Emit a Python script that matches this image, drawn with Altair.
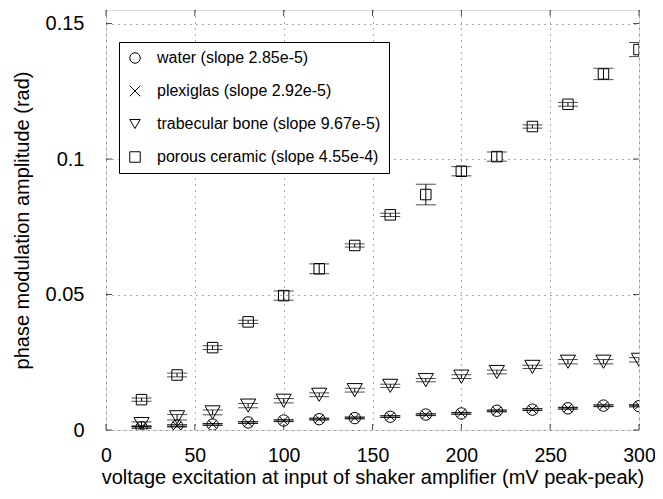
import altair as alt
import pandas as pd

voltage = [20, 40, 60, 80, 100, 120, 140, 160, 180, 200, 220, 240, 260, 280, 300]

water = [0.0010, 0.0016, 0.0020, 0.0028, 0.0035, 0.0040, 0.0044, 0.0049, 0.0057, 0.0061, 0.0071, 0.0075, 0.0080, 0.0090, 0.0088]
water_err = [0.0003, 0.0003, 0.0003, 0.0003, 0.0003, 0.0003, 0.0003, 0.0003, 0.0003, 0.0003, 0.0003, 0.0003, 0.0003, 0.0003, 0.0003]

plexiglas = [0.0011, 0.0015, 0.0021, 0.0027, 0.0034, 0.0041, 0.0045, 0.0050, 0.0056, 0.0062, 0.0070, 0.0076, 0.0081, 0.0089, 0.0091]
plexiglas_err = [0.0004, 0.0004, 0.0003, 0.0003, 0.0003, 0.0003, 0.0003, 0.0003, 0.0003, 0.0003, 0.0003, 0.0003, 0.0003, 0.0003, 0.0003]

bone = [0.0022, 0.0047, 0.0065, 0.0090, 0.0108, 0.0130, 0.0147, 0.0163, 0.0184, 0.0197, 0.0214, 0.0233, 0.0252, 0.0252, 0.0259]
bone_err = [0.0008, 0.0010, 0.0009, 0.0008, 0.0008, 0.0007, 0.0007, 0.0006, 0.0006, 0.0007, 0.0007, 0.0006, 0.0008, 0.0008, 0.0008]

ceramic = [0.0112, 0.0203, 0.0304, 0.0399, 0.0496, 0.0595, 0.0681, 0.0794, 0.0869, 0.0955, 0.1009, 0.1120, 0.1202, 0.1314, 0.1404]
ceramic_err = [0.0006, 0.0007, 0.0007, 0.0006, 0.0017, 0.0018, 0.0006, 0.0006, 0.0038, 0.0017, 0.0017, 0.0006, 0.0007, 0.0021, 0.0026]

series_names = [
    "water (slope 2.85e-5)",
    "plexiglas (slope 2.92e-5)",
    "trabecular bone (slope 9.67e-5)",
    "porous ceramic (slope 4.55e-4)",
]
shapes = ["circle", "M-1,-1L1,1M-1,1L1,-1", "triangle-down", "square"]
sizes = [130, 70, 230, 110]

x_ticks = [0, 50, 100, 150, 200, 250, 300]
y_ticks = [0, 0.05, 0.1, 0.15]

rows = []
for name, vals, errs in zip(series_names, [water, plexiglas, bone, ceramic],
                            [water_err, plexiglas_err, bone_err, ceramic_err]):
    for v, y, e in zip(voltage, vals, errs):
        rows.append({"v": v, "y": y, "lo": y - e, "hi": y + e, "series": name})
df = pd.DataFrame(rows)

W, H = 533, 420
FONT = "Liberation Sans"

xscale = alt.Scale(domain=[0, 300], nice=False)
yscale = alt.Scale(domain=[0, 0.155], nice=False)

xaxis = alt.Axis(values=x_ticks, format="d", title="voltage excitation at input of shaker amplifier (mV peak-peak)",
                 grid=True, gridDash=[1, 5], gridColor="#555", gridWidth=1, domain=False, ticks=False,
                 labelPadding=16, labelFontSize=19.5, titleFontSize=20, titleFontWeight="normal",
                 labelFont=FONT, titleFont=FONT, titlePadding=3, labelColor="black", titleColor="black",
                 labelFlush=False, labelOverlap=False)
yaxis = alt.Axis(values=y_ticks, format="~g", title="phase modulation amplitude (rad)",
                 grid=True, gridDash=[1, 5], gridColor="#555", gridWidth=1, domain=False, ticks=False,
                 labelPadding=22, labelFontSize=20, titleFontSize=20, titleFontWeight="normal",
                 labelFont=FONT, titleFont=FONT, titlePadding=13, labelColor="black", titleColor="black",
                 labelFlush=False, labelOverlap=False)

base = alt.Chart(df)

rules = base.mark_rule(color="black", strokeWidth=1, clip=True).encode(
    x=alt.X("v:Q", scale=xscale, axis=xaxis),
    y=alt.Y("lo:Q", scale=yscale, axis=yaxis),
    y2="hi:Q",
)
caps_lo = base.mark_tick(color="black", orient="horizontal", size=20, thickness=1, clip=True).encode(
    x="v:Q", y="lo:Q")
caps_hi = base.mark_tick(color="black", orient="horizontal", size=20, thickness=1, clip=True).encode(
    x="v:Q", y="hi:Q")

legend = alt.Legend(title=None, orient="none", legendX=13, legendY=32,
                    strokeColor="black", fillColor="white", padding=8,
                    labelFont=FONT, labelFontSize=16, labelColor="black", labelLimit=0,
                    labelOffset=14, rowPadding=17, symbolSize=110,
                    symbolStrokeColor="black", symbolStrokeWidth=1,
                    symbolFillColor="transparent")
shape_enc = alt.Shape("series:N", scale=alt.Scale(domain=series_names, range=shapes), legend=legend)

point_layers = []
for name, sz in zip(series_names, sizes):
    point_layers.append(
        base.transform_filter(alt.datum.series == name)
        .mark_point(filled=False, color="black", strokeWidth=1, opacity=1, size=sz, clip=True)
        .encode(x="v:Q", y="y:Q", shape=shape_enc)
    )

ydf = pd.DataFrame({"t": y_ticks})
xdf = pd.DataFrame({"t": x_ticks})
tl = alt.Chart(ydf).mark_tick(color="black", orient="horizontal", size=6, thickness=1, xOffset=3).encode(
    x=alt.value(0), y=alt.Y("t:Q"))
tr = alt.Chart(ydf).mark_tick(color="black", orient="horizontal", size=6, thickness=1, xOffset=-3).encode(
    x=alt.value(W), y=alt.Y("t:Q"))
tb = alt.Chart(xdf).mark_tick(color="black", orient="vertical", size=6, thickness=1, yOffset=-3).encode(
    y=alt.value(H), x=alt.X("t:Q"))
tt = alt.Chart(xdf).mark_tick(color="black", orient="vertical", size=6, thickness=1, yOffset=3).encode(
    y=alt.value(0), x=alt.X("t:Q"))

chart = alt.layer(rules, caps_lo, caps_hi, *point_layers, tl, tr, tb, tt).properties(
    width=W, height=H,
    autosize=alt.AutoSizeParams(type="none"),
    padding={"left": 98, "top": 2, "right": 16, "bottom": 61},
).configure_view(stroke="black", strokeWidth=1.5).configure(background="white")

chart.save("out.html", embed_options={"renderer": "svg", "actions": False})
